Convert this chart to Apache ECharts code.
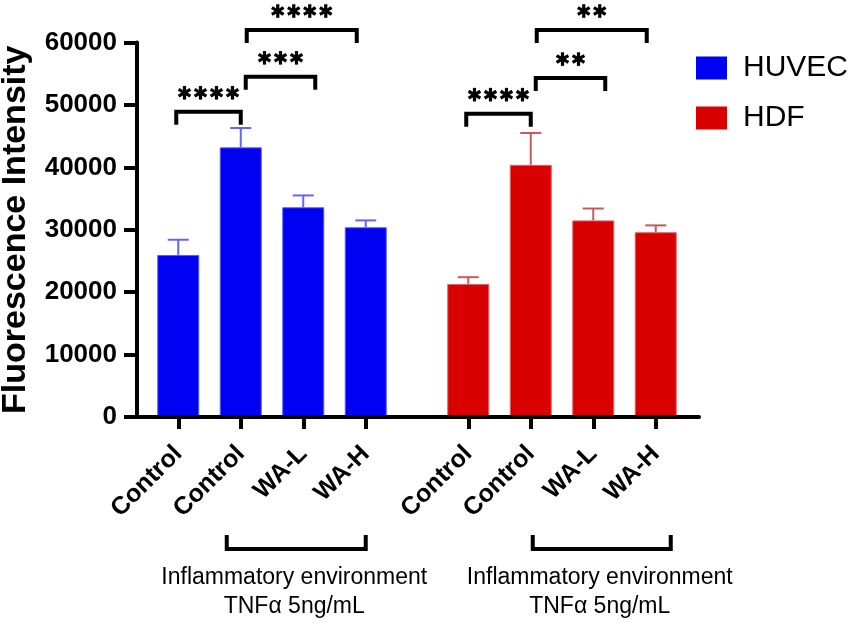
<!DOCTYPE html>
<html>
<head>
<meta charset="utf-8" />
<title>Fluorescence Intensity</title>
<script src="https://cdn.jsdelivr.net/npm/echarts@6/dist/echarts.min.js"></script>
<style>
    html, body { margin: 0; padding: 0; background: #fff; }
    #main { width: 852px; height: 623px; }
</style>
</head>
<body>
<div id="main"></div>
<script>
    // values
    var groups = ['Control', 'Control', 'WA-L', 'WA-H'];
    var huvecMean = [25960, 43200, 33600, 30400];
    var huvecUpper = [28400, 46300, 35500, 31500];
    var hdfMean = [21300, 40400, 31500, 29600];
    var hdfUpper = [22400, 45500, 33400, 30700];
    // [from, to, bracket level, number of stars]
    var huvecSig = [[0, 1, 48900, 4], [1, 2, 54500, 3], [1, 3, 62000, 4]];
    var hdfSig = [[0, 1, 48600, 4], [1, 2, 54300, 2], [1, 3, 62000, 2]];
    var noteText = 'Inflammatory environment\nTNFα 5ng/mL';

    var FONT = 'Liberation Sans';
    var BLUE = '#0000f2', RED = '#d80000';

    // small pixel shifts of the bracket ends so they do not sit on each other
    var nudge = [[-2, 0], [5, 12], [6, -9]];

    function errorBar(color) {
        return function (params, api) {
            var x = api.value(0);
            var base = api.coord([x, api.value(1)]);
            var top = api.coord([x, api.value(2)]);
            return {
                type: 'group',
                children: [
                    { type: 'line', shape: { x1: base[0], y1: base[1], x2: top[0], y2: top[1] }, style: { stroke: color, lineWidth: 2 } },
                    { type: 'line', shape: { x1: top[0] - 10.5, y1: top[1], x2: top[0] + 10.5, y2: top[1] }, style: { stroke: color, lineWidth: 2 } }
                ]
            };
        };
    }

    function sigBracket(params, api) {
        var i = params.dataIndex;
        var a = api.coord([api.value(0), api.value(2)]);
        var b = api.coord([api.value(1), api.value(2)]);
        var x1 = a[0] + nudge[i][0], x2 = b[0] + nudge[i][1], y = a[1];
        var n = api.value(3);
        var kids = [{
            type: 'polyline',
            shape: { points: [[x1, y + 13], [x1, y], [x2, y], [x2, y + 13]] },
            style: { stroke: '#000', lineWidth: 4, fill: null, lineJoin: 'miter' }
        }];
        var cx = (x1 + x2) / 2, cy = y - 19, r = 6.8;
        for (var k = 0; k < n; k++) {
            var sx = cx + (k - (n - 1) / 2) * 16;
            [90, 30, 150].forEach(function (deg) {
                var t = deg * Math.PI / 180;
                kids.push({
                    type: 'line',
                    shape: { x1: sx - r * Math.cos(t), y1: cy - r * Math.sin(t), x2: sx + r * Math.cos(t), y2: cy + r * Math.sin(t) },
                    style: { stroke: '#000', lineWidth: 3.2 }
                });
            });
        }
        return { type: 'group', children: kids };
    }

    function rows(mean, upper) {
        return mean.map(function (m, i) { return [i, m, upper[i]]; });
    }

    var catAxis = function (idx) {
        return {
            type: 'category', gridIndex: idx, data: groups,
            axisLine: { show: false },
            axisTick: { show: true, alignWithLabel: true, length: 12, lineStyle: { color: '#000', width: 4 } },
            axisLabel: { rotate: 45, margin: 33, color: '#000', fontFamily: FONT, fontWeight: 'bold', fontSize: 25, interval: 0 }
        };
    };
    var hiddenY = function (idx) {
        return { type: 'value', gridIndex: idx, min: 0, max: 60000, show: false };
    };

    var chart = echarts.init(document.getElementById('main'));
    chart.setOption({
        animation: false,
        backgroundColor: '#fff',
        grid: [
            { left: 137, top: 42.5, width: 562, height: 374.5, containLabel: false, outerBoundsMode: 'none' },
            { left: 147, top: 42.5, width: 250, height: 374.5, containLabel: false, outerBoundsMode: 'none' },
            { left: 437, top: 42.5, width: 250, height: 374.5, containLabel: false, outerBoundsMode: 'none' }
        ],
        legend: {
            orient: 'vertical', left: 691, top: 48, itemGap: 20,
            itemWidth: 31, itemHeight: 23, icon: 'rect',
            itemStyle: { borderWidth: 0 },
            textStyle: { fontFamily: FONT, fontSize: 30, color: '#000', padding: [0, 0, 0, 11] },
            data: ['HUVEC', 'HDF']
        },
        xAxis: [
            {
                type: 'value', gridIndex: 0, min: 0, max: 1, z: 5,
                axisLine: { show: true, lineStyle: { color: '#000', width: 4 } },
                axisTick: { show: false }, axisLabel: { show: false }, splitLine: { show: false }
            },
            catAxis(1),
            catAxis(2)
        ],
        yAxis: [
            {
                type: 'value', gridIndex: 0, min: 0, max: 60000, interval: 10000, z: 5,
                name: 'Fluorescence Intensity', nameLocation: 'middle', nameGap: 104,
                nameTextStyle: { fontFamily: FONT, fontWeight: 'bold', fontSize: 34, color: '#000' },
                axisLine: { show: true, lineStyle: { color: '#000', width: 4 } },
                axisTick: { show: true, inside: false, length: 13, lineStyle: { color: '#000', width: 4 } },
                axisLabel: {
                    margin: 20, color: '#000', fontFamily: FONT, fontWeight: 'bold', fontSize: 26,
                    formatter: function (v) { return String(v); }
                },
                splitLine: { show: false }
            },
            hiddenY(1),
            hiddenY(2)
        ],
        series: [
            {
                name: 'HUVEC', type: 'bar', xAxisIndex: 1, yAxisIndex: 1, barWidth: 42,
                itemStyle: { color: BLUE, borderColor: '#5a5aff', borderWidth: 1 },
                data: huvecMean
            },
            {
                name: 'HDF', type: 'bar', xAxisIndex: 2, yAxisIndex: 2, barWidth: 42,
                itemStyle: { color: RED, borderColor: '#e26060', borderWidth: 1 },
                data: hdfMean
            },
            {
                type: 'custom', xAxisIndex: 1, yAxisIndex: 1, renderItem: errorBar('#6464ff'),
                encode: { x: 0, y: [1, 2] }, data: rows(huvecMean, huvecUpper), z: 3
            },
            {
                type: 'custom', xAxisIndex: 2, yAxisIndex: 2, renderItem: errorBar('#c85a5a'),
                encode: { x: 0, y: [1, 2] }, data: rows(hdfMean, hdfUpper), z: 3
            },
            {
                type: 'custom', xAxisIndex: 1, yAxisIndex: 1, renderItem: sigBracket, clip: false,
                encode: { x: [0, 1], y: 2 }, data: huvecSig
            },
            {
                type: 'custom', xAxisIndex: 2, yAxisIndex: 2, renderItem: sigBracket, clip: false,
                encode: { x: [0, 1], y: 2 }, data: hdfSig
            }
        ]
    });

    // treatment brackets under the tick labels, placed from the category positions
    function treatment(axisIdx, dl, dr) {
        var x1 = chart.convertToPixel({ xAxisIndex: axisIdx }, 1) + dl;
        var x2 = chart.convertToPixel({ xAxisIndex: axisIdx }, 3) + dr;
        var cx = (x1 + x2) / 2;
        return [
            {
                type: 'polyline',
                shape: { points: [[x1, 535], [x1, 549], [x2, 549], [x2, 535]] },
                style: { stroke: '#000', lineWidth: 4, fill: null }
            },
            {
                type: 'text', x: cx - 2, y: 563,
                style: { text: noteText, fontFamily: FONT, fontSize: 23, lineHeight: 29, fill: '#000', align: 'center', verticalAlign: 'top' }
            }
        ];
    }
    chart.setOption({ graphic: treatment(1, -14, 0).concat(treatment(2, 2, 15)) });
</script>
</body>
</html>
